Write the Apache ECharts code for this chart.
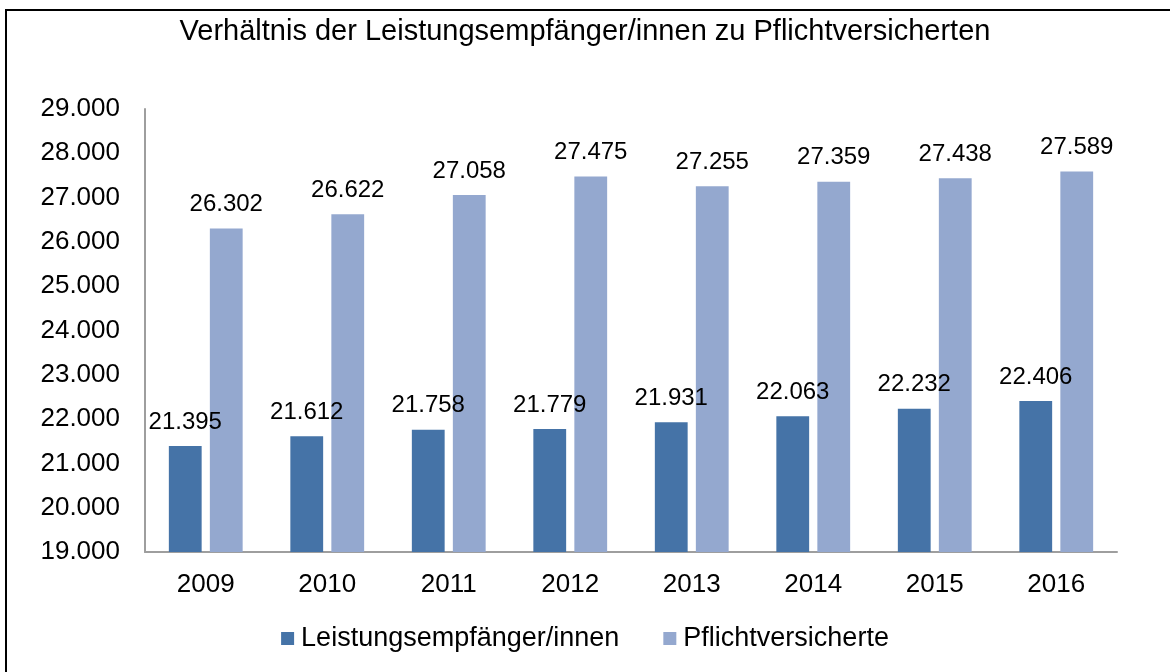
<!DOCTYPE html>
<html>
<head>
<meta charset="utf-8">
<script src="https://cdn.jsdelivr.net/npm/echarts@6/dist/echarts.min.js"></script>
<style>
  html, body { margin: 0; padding: 0; background: #fff; }
  #chart { width: 1170px; height: 672px; }
</style>
</head>
<body>
<div id="chart"></div>
<script>
// Jahre und Werte
const years = ['2009', '2010', '2011', '2012', '2013', '2014', '2015', '2016'];
const leistungsempfaenger = [21395, 21612, 21758, 21779, 21931, 22063, 22232, 22406];
const pflichtversicherte = [26302, 26622, 27058, 27475, 27255, 27359, 27438, 27589];
const seriesNames = ['Leistungsempfänger/innen', 'Pflichtversicherte'];

// Tausendertrennzeichen als Punkt
function fmt(v) {
  return String(Math.round(v)).replace(/\B(?=(\d{3})+(?!\d))/g, '.');
}

const font = 'Liberation Sans, Arial, sans-serif';
const chart = echarts.init(document.getElementById('chart'), null, { renderer: 'canvas' });

const labelStyle = {
  show: true,
  position: 'top',
  distance: 12,
  color: '#000',
  fontFamily: font,
  fontSize: 24,
  formatter: p => fmt(p.value)
};

chart.setOption({
  animation: false,
  backgroundColor: '#fff',
  title: {
    text: 'Verhältnis der Leistungsempfänger/innen zu Pflichtversicherten',
    left: 'center',
    top: 12,
    textStyle: { fontFamily: font, fontSize: 29, fontWeight: 'normal', color: '#000' }
  },
  graphic: [{
    type: 'rect',
    shape: { x: 6, y: 10, width: 1300, height: 800 },
    style: { fill: 'none', stroke: '#000', lineWidth: 2 },
    silent: true
  }],
  legend: {
    bottom: 15,
    left: 'center',
    itemWidth: 13,
    itemHeight: 13,
    itemGap: 44,
    icon: 'rect',
    textStyle: { fontFamily: font, fontSize: 27, color: '#000', padding: [0, 0, 0, 2] },
    data: seriesNames
  },
  grid: { left: 145, right: 53, top: 109, bottom: 120, containLabel: false },
  xAxis: {
    type: 'category',
    data: years,
    axisLine: { lineStyle: { color: '#9e9e9e', width: 2 } },
    axisTick: { show: false },
    axisLabel: { color: '#000', fontFamily: font, fontSize: 26, margin: 20 }
  },
  yAxis: {
    type: 'value',
    min: 19000,
    max: 29000,
    interval: 1000,
    axisLine: { show: true, lineStyle: { color: '#9e9e9e', width: 2 } },
    axisTick: { show: false },
    splitLine: { show: false },
    axisLabel: { color: '#000', fontFamily: font, fontSize: 26, margin: 25, formatter: v => fmt(v) }
  },
  series: [
    {
      name: seriesNames[0],
      type: 'bar',
      data: leistungsempfaenger,
      barWidth: '27%',
      barGap: '25%',
      itemStyle: { color: '#4573a7' },
      label: labelStyle
    },
    {
      name: seriesNames[1],
      type: 'bar',
      data: pflichtversicherte,
      barWidth: '27%',
      itemStyle: { color: '#94a8cf' },
      label: labelStyle
    }
  ]
});
</script>
</body>
</html>
